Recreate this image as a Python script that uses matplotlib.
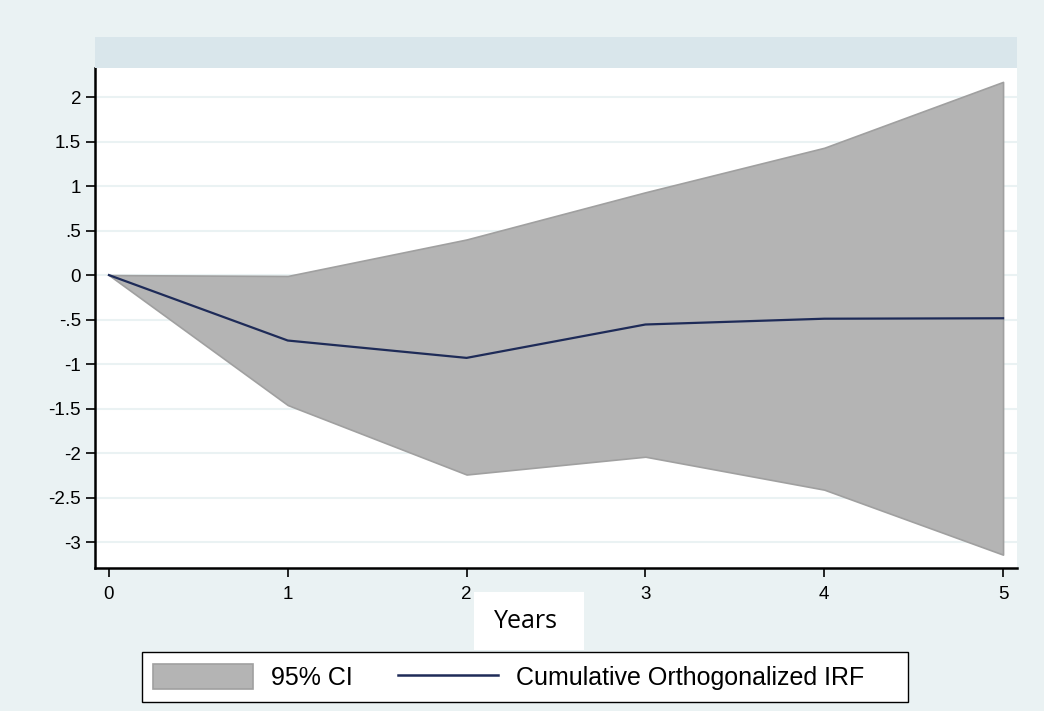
import matplotlib
matplotlib.use("Agg")
import matplotlib.pyplot as plt
from matplotlib.patches import Rectangle, Patch
from matplotlib.lines import Line2D

# Data
years = [0, 1, 2, 3, 4, 5]
irf = [0.0, -0.735, -0.93, -0.555, -0.49, -0.485]
ci_upper = [0.0, -0.01, 0.40, 0.93, 1.43, 2.17]
ci_lower = [0.0, -1.46, -2.24, -2.04, -2.41, -3.14]
yticks = [2, 1.5, 1, 0.5, 0, -0.5, -1, -1.5, -2, -2.5, -3]
ytick_labels = ["2", "1.5", "1", ".5", "0", "-.5", "-1", "-1.5", "-2", "-2.5", "-3"]
xticks = [0, 1, 2, 3, 4, 5]

BG = "#EAF2F3"
BAND = "#D9E6EB"
FILL = "#B4B4B4"
FILL_EDGE = "#A0A0A0"
NAVY = "#1E2B58"

W, H = 1044, 711
fig = plt.figure(figsize=(W / 100, H / 100), dpi=100, facecolor=BG)

def fx(px):
    return px / W

def fy(py):
    return 1 - py / H

# axes: x 95..1017, y 68..568
ax = fig.add_axes([fx(95), fy(568), fx(1017) - fx(95), fy(68) - fy(568)])
ax.set_facecolor("white")

# header band
fig.patches.append(Rectangle((fx(95), fy(68)), fx(1017) - fx(95), fy(37) - fy(68),
                             transform=fig.transFigure, facecolor=BAND, edgecolor="none", zorder=0))

ax.fill_between(years, ci_lower, ci_upper, facecolor=FILL, edgecolor=FILL_EDGE,
                linewidth=1.2, zorder=2)
ax.plot(years, irf, color=NAVY, linewidth=1.6, zorder=3)

ax.set_xlim(-0.078, 5.078)
ax.set_ylim(-3.29, 2.326)
ax.set_yticks(yticks)
ax.set_yticklabels(ytick_labels)
ax.set_xticks(xticks)
ax.set_xticklabels([str(x) for x in xticks])

ax.grid(axis="y", color=BG, linewidth=1.5, zorder=1)
ax.set_axisbelow(True)

for s in ["top", "right"]:
    ax.spines[s].set_visible(False)
for s in ["left", "bottom"]:
    ax.spines[s].set_linewidth(1.8)
    ax.spines[s].set_color("black")

ax.tick_params(axis="both", direction="out", length=6.5, width=1.2, color="black",
               labelsize=13.5, labelcolor="black")
ax.tick_params(axis="y", pad=3.5)
ax.tick_params(axis="x", pad=6.5)
for lab in ax.get_xticklabels() + ax.get_yticklabels():
    lab.set_fontfamily("Liberation Sans")

# "Years" title in white box
fig.patches.append(Rectangle((fx(474), fy(650)), fx(584) - fx(474), fy(592) - fy(650),
                             transform=fig.transFigure, facecolor="white", edgecolor="none", zorder=0))
fig.text(fx(526), fy(621), "Years", ha="center", va="center", fontsize=18,
         fontfamily="Open Sans", color="black")

# legend frame
fig.patches.append(Rectangle((fx(142), fy(702)), fx(908) - fx(142), fy(652) - fy(702),
                             transform=fig.transFigure, facecolor="white", edgecolor="black",
                             linewidth=1.0, zorder=1))

# legend
handles = [Patch(facecolor=FILL, edgecolor=FILL_EDGE, linewidth=1.2),
           Line2D([0], [0], color=NAVY, linewidth=1.8)]
labels = ["95% CI", "Cumulative Orthogonalized IRF"]
leg = fig.legend(handles, labels, loc="center left", bbox_to_anchor=(fx(153), fy(677)),
                 ncol=2, frameon=False,
                 prop={"family": "Liberation Sans", "size": 18},
                 handlelength=4.0, handleheight=1.15, handletextpad=0.72,
                 columnspacing=1.82, borderpad=0.0, borderaxespad=0)
leg.set_zorder(2)

fig.savefig("out.png", dpi=100, facecolor=BG)
